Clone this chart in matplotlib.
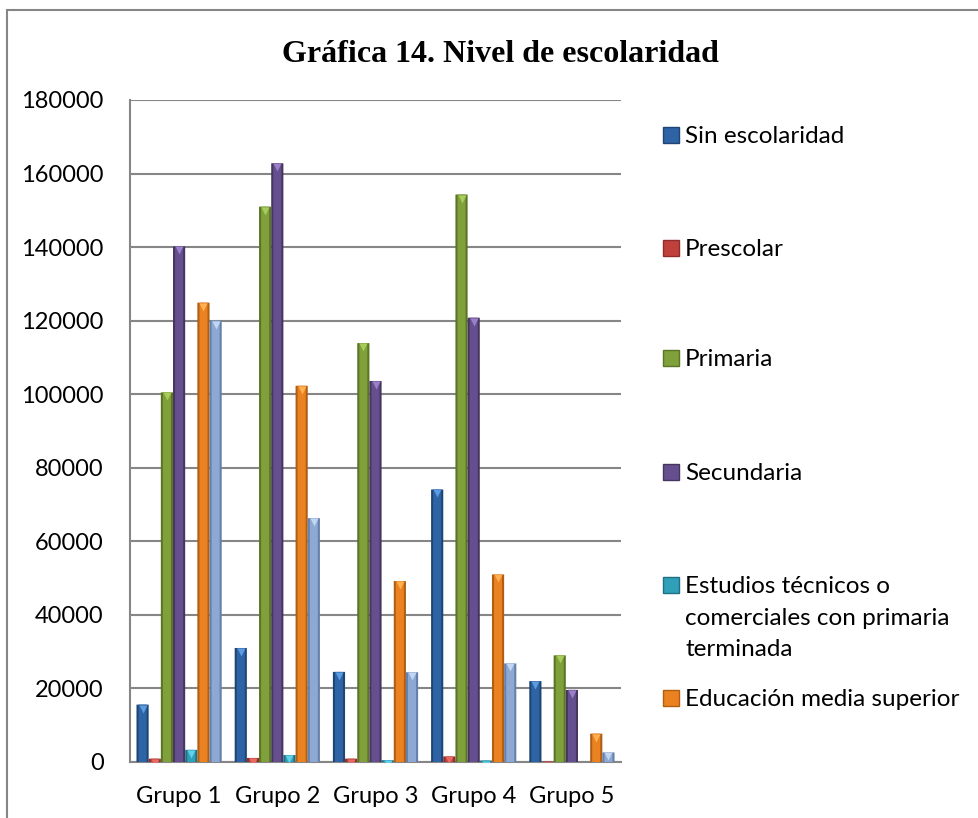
import numpy as np
import matplotlib
matplotlib.use('Agg')
import matplotlib.pyplot as plt
from matplotlib.patches import Rectangle
from matplotlib.transforms import offset_copy

groups = ["Grupo 1", "Grupo 2", "Grupo 3", "Grupo 4", "Grupo 5"]

sin_escolaridad = [15600, 31000, 24500, 74100, 22000]
prescolar = [900, 1100, 900, 1500, 100]
primaria = [100500, 151000, 113900, 154300, 29000]
secundaria = [140200, 162800, 103600, 120800, 19600]
tecnicos = [3300, 1900, 500, 400, 0]
media_superior = [124900, 102300, 49200, 51000, 7700]
superior = [120000, 66300, 24400, 26800, 2600]

# name, values, face colour, side colour, top triangle colour
series = [
    ("Sin escolaridad", sin_escolaridad, "#2E64A6", "#1F4573", "#5B9BE0"),
    ("Prescolar", prescolar, "#C0413C", "#8E2E2A", "#E86A64"),
    ("Primaria", primaria, "#7FA03A", "#5B7526", "#A8CC5A"),
    ("Secundaria", secundaria, "#664F8E", "#46365F", "#9A80C8"),
    ("Estudios técnicos o\ncomerciales con primaria\nterminada", tecnicos, "#2FA0B8", "#1F7083", "#5FD0E8"),
    ("Educación media superior", media_superior, "#EB8222", "#B05E14", "#FFB050"),
    ("Educación superior", superior, "#8DA9D3", "#6580AA", "#C2D6F2"),
]

plt.rcParams['font.family'] = ['Lato', 'DejaVu Sans']

fig = plt.figure(figsize=(9.79, 8.18), dpi=100)
ax = fig.add_axes([130 / 979, 1 - 762 / 818, 491 / 979, 662 / 818])

x = np.arange(len(groups))
width = 0.124
n = len(series)
tri = offset_copy(ax.transData, fig=fig, x=0, y=-4, units='dots')
for i, (name, vals, col, dark, light) in enumerate(series):
    pos = x + (i - (n - 1) / 2) * width
    ax.bar(pos, vals, width, color=dark, edgecolor='none', zorder=3, snap=False)
    ax.bar(pos, vals, width * 0.66, color=col, linewidth=0, zorder=4, snap=False)
    shown = [v > 0 for v in vals]
    ax.plot(pos[shown], np.array(vals)[shown], 'v', ms=6, color=light,
            mec='none', transform=tri, zorder=5)

ax.set_xlim(-0.5, len(groups) - 0.5)
ax.set_ylim(0, 180000)
ax.set_yticks(np.arange(0, 180001, 20000))
ax.set_xticks(x)
ax.set_xticklabels(groups)
ax.tick_params(axis='both', length=0, labelsize=17, colors='black')
ax.tick_params(axis='y', pad=19)
ax.tick_params(axis='x', pad=17)
ax.grid(axis='y', color='#868686', linewidth=1.5, zorder=0)
for side in ['top', 'right']:
    ax.spines[side].set_visible(False)
for side in ['left', 'bottom']:
    ax.spines[side].set_color('#868686')
    ax.spines[side].set_linewidth(1.5)

fig.text(500 / 979, 1 - 55 / 818, "Gráfica 14. Nivel de escolaridad",
         family='Liberation Serif', fontweight='bold', fontsize=23,
         ha='center', va='center')

# legend (last series is not shown in the original)
leg_y = [136, 249, 359, 473, 586, 699]
for (name, vals, col, dark, light), yy in zip(series[:6], leg_y):
    fig.add_artist(Rectangle((663 / 979, 1 - (yy + 7) / 818), 16 / 979, 16 / 818,
                             facecolor=col, edgecolor=dark, linewidth=1,
                             transform=fig.transFigure))
    fig.text(685 / 979, 1 - (yy - 10) / 818, name, fontsize=17.5, ha='left', va='top',
             linespacing=1.62)

# outer frame
fig.add_artist(Rectangle((7 / 979, -0.05), 1.1, 1 - 9.5 / 818 + 0.05, fill=False,
                         edgecolor='#868686', linewidth=1.5, transform=fig.transFigure))

fig.savefig('out.png', dpi=100)
